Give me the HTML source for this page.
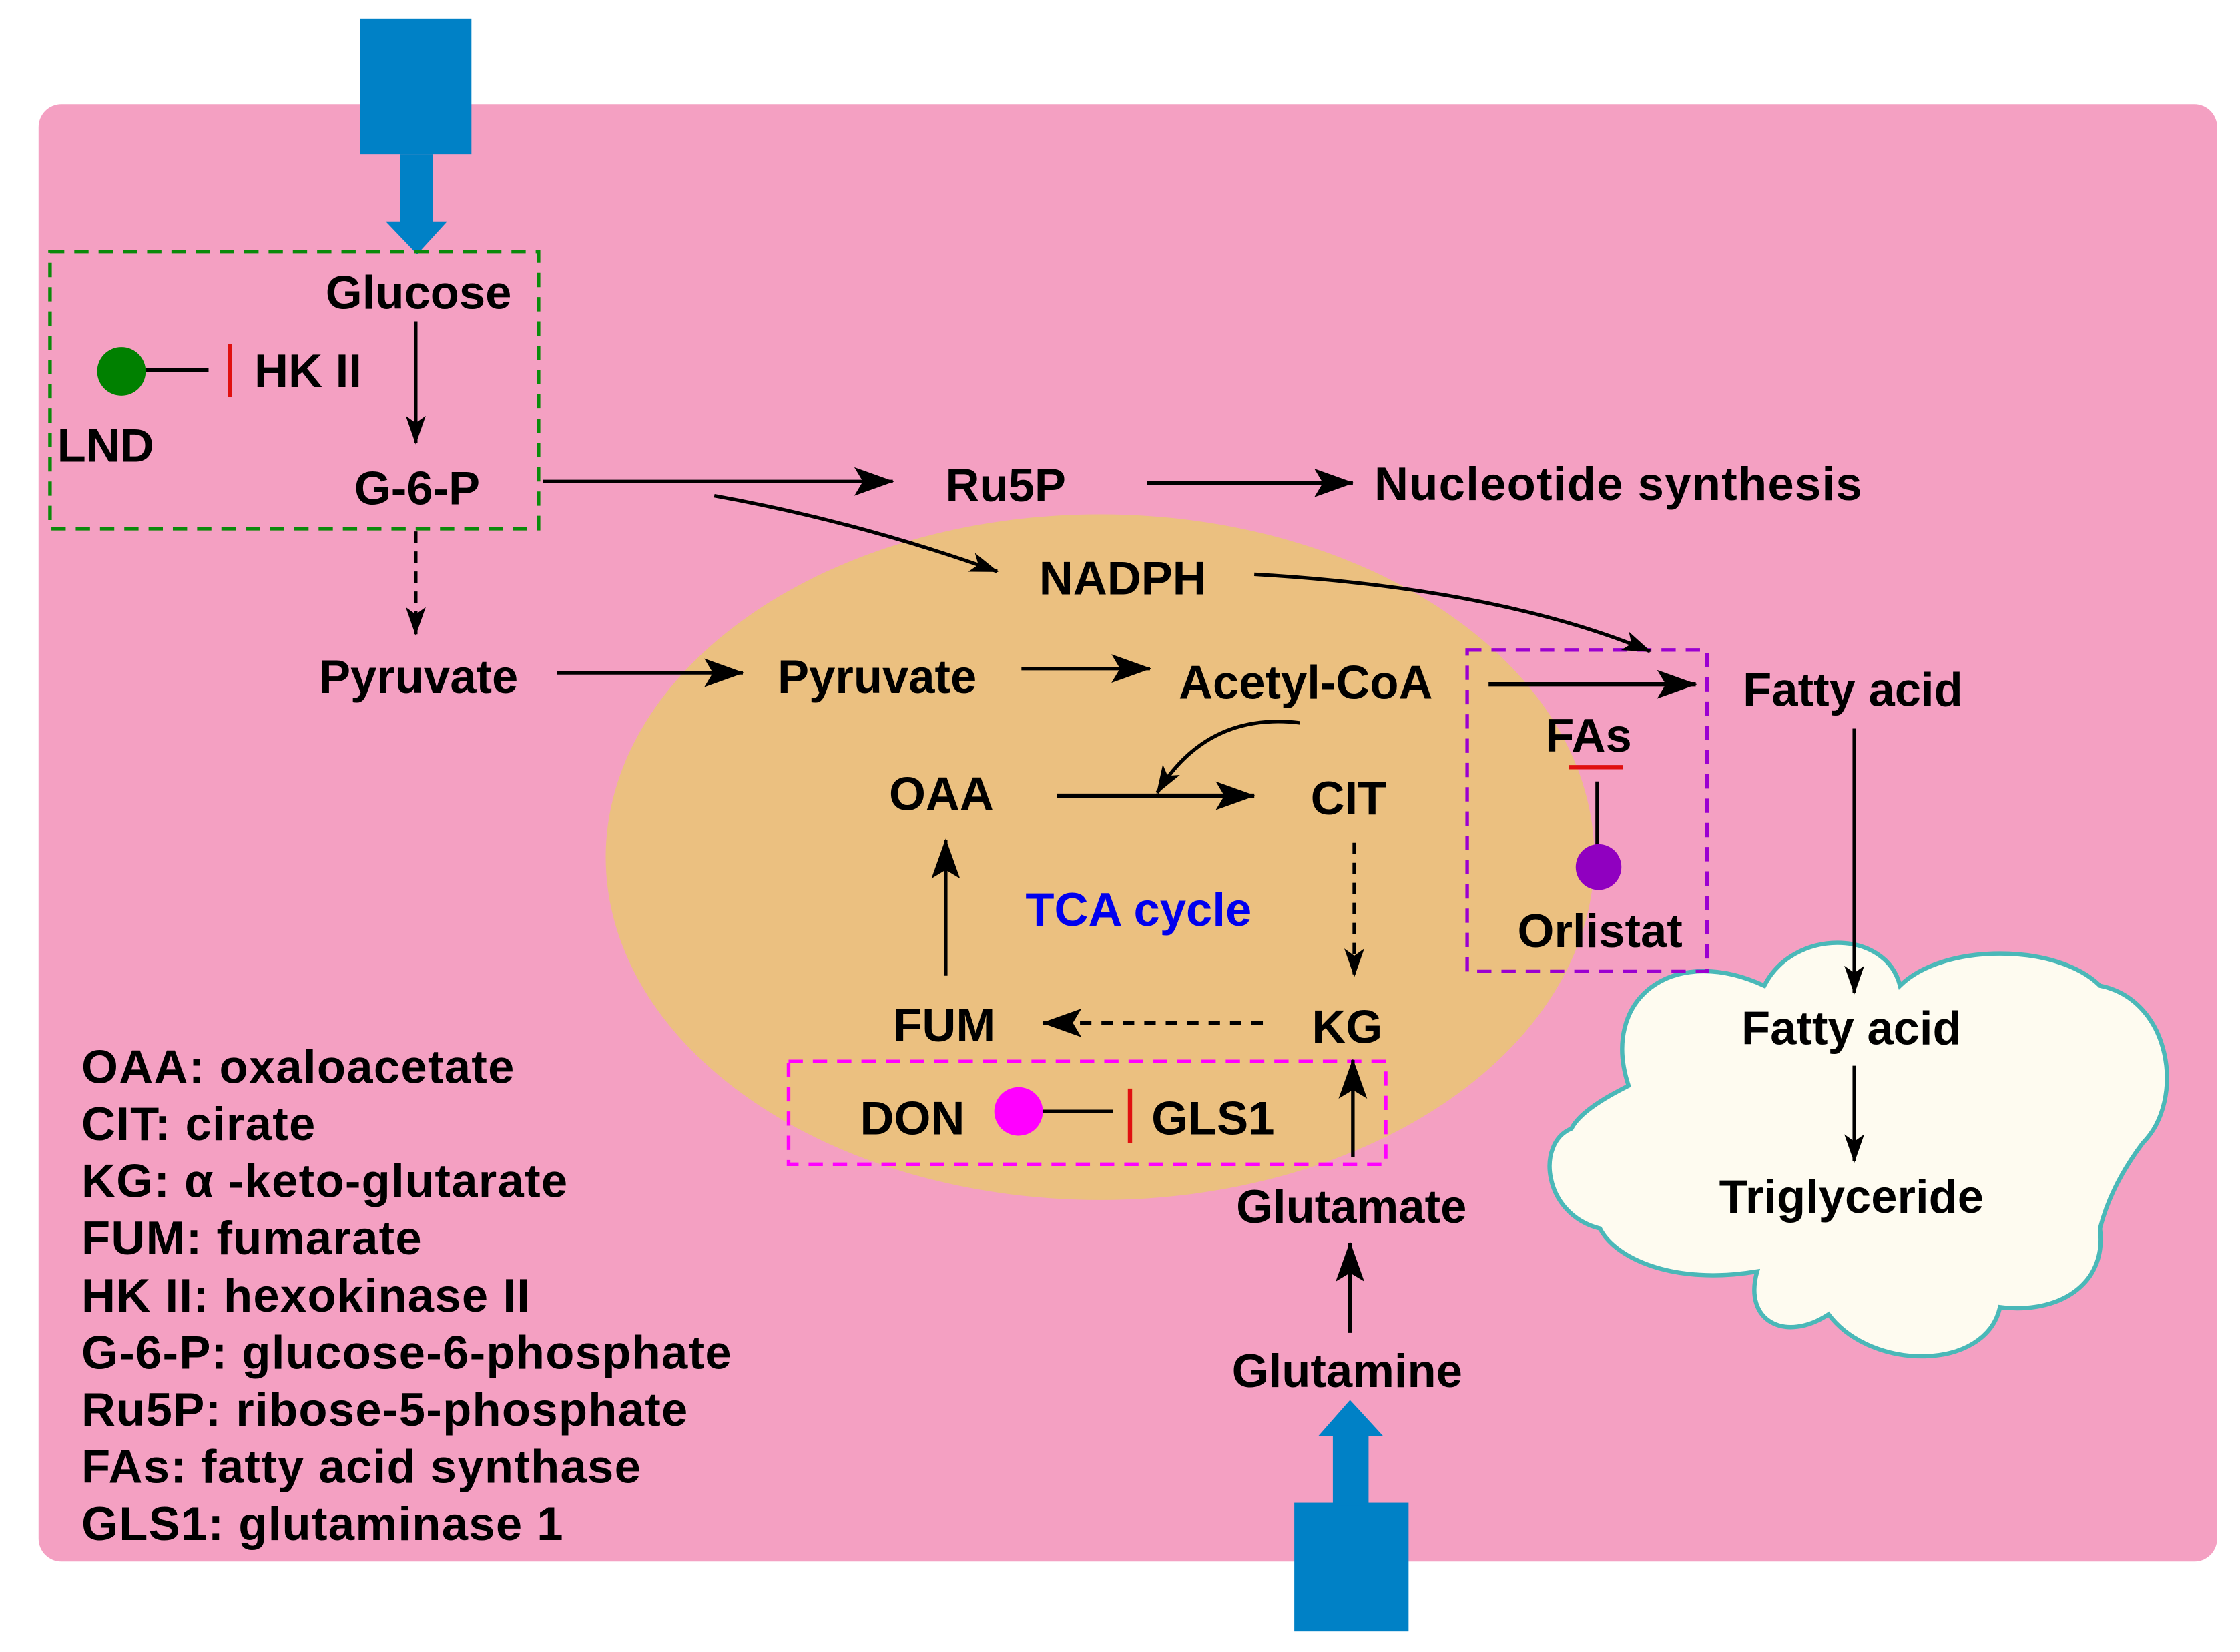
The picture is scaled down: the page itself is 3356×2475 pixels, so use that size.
<!DOCTYPE html>
<html><head><meta charset="utf-8"><style>
html,body{margin:0;padding:0;background:#fff}
svg{display:block}
text{font-family:"Liberation Sans",Arial,sans-serif;font-weight:bold;font-size:33px;fill:#000}
.lg{letter-spacing:0.6px}
</style></head><body>
<svg width="3356" height="2475" viewBox="0 0 1568 1156.4" preserveAspectRatio="none" xmlns="http://www.w3.org/2000/svg">
<defs>
<marker id="a" viewBox="0 0 20 14" refX="19" refY="7" markerWidth="20" markerHeight="14" markerUnits="userSpaceOnUse" orient="auto">
<path d="M0,0 L20,7 L0,14 L5,7 Z" fill="#000"/></marker>
<marker id="b" viewBox="0 0 28 20" refX="27" refY="10" markerWidth="28" markerHeight="20" markerUnits="userSpaceOnUse" orient="auto">
<path d="M0,0 L28,10 L0,20 L6,10 Z" fill="#000"/></marker>
</defs>
<rect x="27" y="73" width="1525" height="1020" rx="16" fill="#F4A0C2"/>
<ellipse cx="770" cy="600" rx="346" ry="240" fill="#EBC080"/>
<path d="M1140,760 C1120,700 1170,660 1235,690 C1255,650 1320,650 1330,690 C1360,660 1440,660 1470,690 C1520,700 1530,770 1500,800 C1485,820 1475,840 1470,860 C1475,900 1440,920 1400,915 C1390,960 1310,960 1280,920 C1250,940 1220,925 1230,890 C1170,900 1130,880 1120,860 C1080,850 1075,800 1100,790 C1105,780 1120,770 1140,760 Z" fill="#FEFBF0" stroke="#4AB8B8" stroke-width="3"/>
<g fill="#0081C6">
<rect x="252" y="13" width="78" height="95"/><rect x="280" y="108" width="23" height="48"/><polygon points="270,155 313,155 292,178"/>
<rect x="906" y="1052" width="80" height="90"/><rect x="933" y="1004" width="25" height="50"/><polygon points="923,1005 968,1005 945,980"/>
</g>
<rect x="35" y="176" width="342" height="194" fill="none" stroke="#0A8A0A" stroke-width="2.5" stroke-dasharray="10,7"/>
<rect x="1027" y="455" width="168" height="225" fill="none" stroke="#9B00D0" stroke-width="2.5" stroke-dasharray="10,7"/>
<rect x="552" y="743" width="418" height="72" fill="none" stroke="#FF00FF" stroke-width="2.5" stroke-dasharray="10,7"/>
<g stroke="#000" stroke-width="2.5" fill="none">
<line x1="291" y1="225" x2="291" y2="310" marker-end="url(#a)"/>
<line x1="291" y1="372" x2="291" y2="444" stroke-dasharray="8,6" marker-end="url(#a)"/>
<line x1="380" y1="337" x2="625" y2="337" marker-end="url(#b)"/>
<path d="M500,347 Q600,365 698,400" marker-end="url(#a)"/>
<line x1="803" y1="338" x2="947" y2="338" marker-end="url(#b)"/>
<path d="M878,402 Q1050,412 1155,456" marker-end="url(#a)"/>
<line x1="390" y1="471" x2="520" y2="471" marker-end="url(#b)"/>
<line x1="715" y1="468" x2="805" y2="468" marker-end="url(#b)"/>
<line x1="1042" y1="479" x2="1187" y2="479" stroke-width="3" marker-end="url(#b)"/>
<line x1="740" y1="557" x2="878" y2="557" stroke-width="3" marker-end="url(#b)"/>
<path d="M910,506 Q845,498 810,555" marker-end="url(#a)"/>
<line x1="948" y1="590" x2="948" y2="683" stroke-dasharray="8,6" marker-end="url(#a)"/>
<line x1="884" y1="716" x2="730" y2="716" stroke-dasharray="8,7" marker-end="url(#b)"/>
<line x1="662" y1="683" x2="662" y2="588" marker-end="url(#b)"/>
<line x1="947" y1="810" x2="947" y2="742" marker-end="url(#b)"/>
<line x1="945" y1="933" x2="945" y2="870" marker-end="url(#b)"/>
<line x1="1298" y1="510" x2="1298" y2="695" marker-end="url(#a)"/>
<line x1="1298" y1="746" x2="1298" y2="813" marker-end="url(#a)"/>
<line x1="100" y1="259" x2="146" y2="259"/>
<line x1="730" y1="778" x2="779" y2="778"/>
<line x1="1118" y1="547" x2="1118" y2="600"/>
</g>
<line x1="161" y1="241" x2="161" y2="278" stroke="#E01010" stroke-width="3"/>
<line x1="791" y1="762" x2="791" y2="800" stroke="#E01010" stroke-width="3"/>
<line x1="1098" y1="537" x2="1136" y2="537" stroke="#E01010" stroke-width="3"/>
<ellipse cx="85" cy="260" rx="17" ry="17" fill="#008000"/>
<ellipse cx="713" cy="778" rx="17" ry="17" fill="#FF00FF"/>
<ellipse cx="1119" cy="607" rx="16" ry="16" fill="#9000C0"/>
<g text-anchor="middle">
<text x="293" y="216">Glucose</text>
<text x="292" y="353">G-6-P</text>
<text x="293" y="485">Pyruvate</text>
<text x="614" y="485">Pyruvate</text>
<text x="704" y="351">Ru5P</text>
<text x="786" y="416">NADPH</text>
<text x="914" y="489">Acetyl-CoA</text>
<text x="659" y="567">OAA</text>
<text x="944" y="570">CIT</text>
<text x="797" y="648" style="fill:#0000EE">TCA cycle</text>
<text x="661" y="729">FUM</text>
<text x="943" y="730">KG</text>
<text x="946" y="856">Glutamate</text>
<text x="943" y="971">Glutamine</text>
<text x="1112" y="526">FAs</text>
<text x="1120" y="663">Orlistat</text>
<text x="1297" y="494">Fatty acid</text>
<text x="1296" y="731">Fatty acid</text>
<text x="1296" y="849">Triglyceride</text>
</g>
<text x="178" y="271">HK II</text>
<text x="40" y="323">LND</text>
<text x="962" y="350" class="lg">Nucleotide synthesis</text>
<text x="602" y="794">DON</text>
<text x="806" y="794">GLS1</text>
<g class="lg">
<text x="57" y="758">OAA: oxaloacetate</text>
<text x="57" y="798">CIT: cirate</text>
<text x="57" y="838">KG: α -keto-glutarate</text>
<text x="57" y="878">FUM: fumarate</text>
<text x="57" y="918">HK II: hexokinase II</text>
<text x="57" y="958">G-6-P: glucose-6-phosphate</text>
<text x="57" y="998">Ru5P: ribose-5-phosphate</text>
<text x="57" y="1038">FAs: fatty acid synthase</text>
<text x="57" y="1078">GLS1: glutaminase 1</text>
</g>
</svg>
</body></html>
